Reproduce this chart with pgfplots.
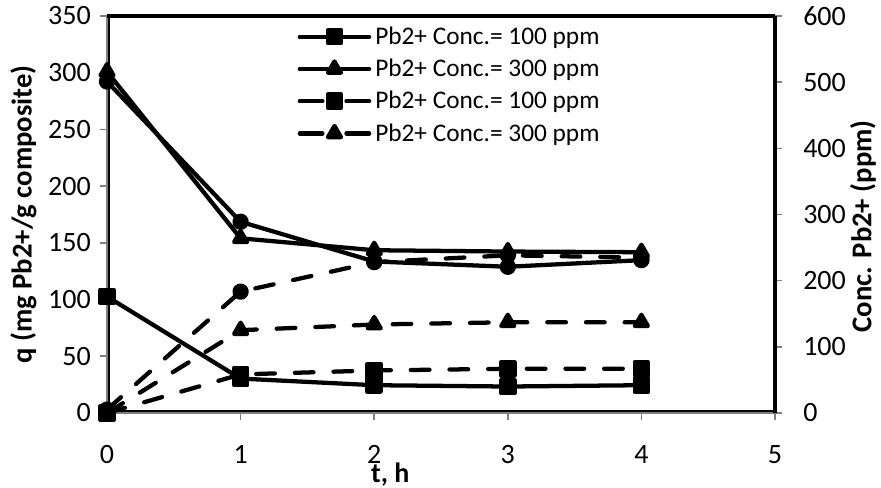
\documentclass[border=0pt]{standalone}
\usepackage{fontspec}
\setmainfont{Carlito}
\usepackage{pgfplots}
\pgfplotsset{compat=1.18}
\begin{document}
\begin{tikzpicture}
\useasboundingbox (-80.25pt,-56.25pt) rectangle (580.5pt,309.75pt);
\pgfplotsset{
  sld/.style={black, line width=3.2pt, line cap=round, line join=round, mark options={solid}},
  dsh/.style={sld, dash pattern=on 14pt off 15pt},
  msq/.style={mark=square*, mark size=5pt},
  mtr/.style={mark=triangle*, mark size=5.6pt},
  mci/.style={mark=*, mark size=4.5pt},
  common/.style={
    at={(0,0)}, anchor=south west,
    scale only axis, width=501pt, height=297.75pt,
    xmin=0, xmax=5, clip=false,
    tick align=outside, major tick length=5pt,
    tick style={gray, line width=1.2pt},
    ticklabel style={font=\fontsize{21}{25}\selectfont, inner sep=0pt},
    /pgf/number format/assume math mode=true,
  },
}
\begin{axis}[common,
  ymin=0, ymax=350,
  xtick={0,1,2,3,4,5}, ytick={0,50,...,350},
  axis x line*=bottom, axis y line*=left,
  axis line style={-, gray, line width=1.5pt},
  yticklabel shift=7pt, xticklabel shift=19pt,
  xlabel={t, h},
  ylabel={q (mg Pb2+/g composite)},
  every axis x label/.style={at={(rel axis cs:0.424,0)}, yshift=-46pt, anchor=center, inner sep=0pt, font=\bfseries\fontsize{21}{25}\selectfont},
  every axis y label/.style={at={(rel axis cs:0,0.5)}, xshift=-62.6pt, rotate=90, anchor=center, font=\bfseries\fontsize{21.5}{25}\selectfont},
]
% q, adsorbed amount (dashed)
\addplot[dsh, msq] coordinates {(0,0) (1,34) (2,37.5) (3,39) (4,39)};
\addplot[dsh, mtr] coordinates {(0,0) (1,73) (2,78) (3,80) (4,80)};
\addplot[dsh, mci] coordinates {(0,3) (1,107) (2,133) (3,139) (4,137)};
\end{axis}
\begin{axis}[common,
  ymin=0, ymax=600,
  ytick={0,100,...,600},
  axis x line=none, axis y line*=right,
  axis line style={-, black, line width=3.5pt},
  yticklabel shift=16pt,
  ylabel={Conc. Pb2+ (ppm)},
  every axis y label/.style={at={(rel axis cs:1,0.47)}, xshift=66pt, rotate=90, anchor=center, font=\bfseries\fontsize{21.5}{25}\selectfont},
  legend cell align=left,
  legend style={draw=none, fill=none, inner sep=0pt, at={(rel axis cs:0.285,0.98)}, anchor=north west,
    font=\fontsize{19}{22}\selectfont, row sep=5.5pt,
    /tikz/every odd column/.append style={column sep=1pt}},
  legend image code/.code={\draw[mark repeat=2, mark phase=2] plot coordinates {(0pt,0pt) (26pt,0pt) (52pt,0pt)};},
]
% residual concentration (solid)
\addplot[sld, msq] coordinates {(0,176) (1,52) (2,42) (3,40) (4,42)};
\addlegendentry{Pb2+ Conc.= 100 ppm}
\addplot[sld, mtr] coordinates {(0,516) (1,264) (2,246) (3,244) (4,243)};
\addlegendentry{Pb2+ Conc.= 300 ppm}
\addplot[sld, mci, forget plot] coordinates {(0,501) (1,289) (2,229) (3,221) (4,231)};
\addlegendimage{sld, msq, dash pattern=on 17pt off 18pt}
\addlegendentry{Pb2+ Conc.= 100 ppm}
\addlegendimage{sld, mtr, dash pattern=on 17pt off 18pt}
\addlegendentry{Pb2+ Conc.= 300 ppm}
\draw[black, line width=3.5pt] (rel axis cs:0,1) -- (rel axis cs:1,1);
\draw[black, line width=1.5pt] ([xshift=1.5pt]rel axis cs:0,0) -- ([xshift=1.5pt]rel axis cs:0,1);
\draw[black, line width=1.5pt] ([yshift=1.5pt]rel axis cs:0,0) -- ([yshift=1.5pt]rel axis cs:1,0);
\end{axis}
\end{tikzpicture}
\end{document}
